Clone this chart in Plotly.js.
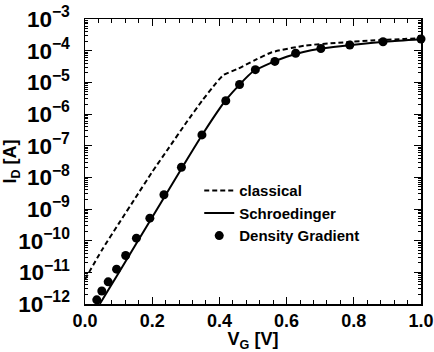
<!DOCTYPE html>
<html>
<head>
<meta charset="utf-8">
<script src="https://cdn.plot.ly/plotly-3.0.1.min.js"></script>
<style>html,body{margin:0;padding:0;background:#fff;}#chart{width:434px;height:352px;}</style>
</head>
<body>
<div id="chart"></div>
<script>
// Classical (dashed)
const classicalVg = [0.0, 0.05, 0.1, 0.15, 0.2, 0.25, 0.3, 0.35, 0.39, 0.412, 0.457, 0.507, 0.556, 0.655, 0.754, 0.852, 0.95, 1.0];
const classicalId = [6.0e-12, 5.0e-11, 3.4e-10, 2.24e-9, 1.48e-8, 8.7e-8, 5.1e-7, 2.75e-6, 9.5e-6, 1.7e-5, 2.75e-5, 5.1e-5, 8.9e-5, 1.45e-4, 1.78e-4, 2.09e-4, 2.34e-4, 2.45e-4];

// Schroedinger (solid)
const schVg = [0.044, 0.1, 0.2, 0.3, 0.35, 0.40, 0.42, 0.46, 0.50, 0.55, 0.60, 0.65, 0.70, 0.80, 0.90, 1.00];
const schId = [1.0e-12, 9.5e-12, 5.5e-10, 3.16e-8, 2.29e-7, 1.45e-6, 2.82e-6, 8.5e-6, 2.19e-5, 3.98e-5, 6.46e-5, 9.12e-5, 1.15e-4, 1.55e-4, 1.95e-4, 2.29e-4];

// Density Gradient (dots)
const dgVg = [0.035, 0.05, 0.069, 0.094, 0.121, 0.153, 0.193, 0.235, 0.287, 0.348, 0.419, 0.46, 0.507, 0.565, 0.627, 0.702, 0.788, 0.887, 1.0];
const dgId = [1.35e-12, 2.57e-12, 5.0e-12, 1.26e-11, 3.39e-11, 1.20e-10, 5.13e-10, 2.82e-9, 2.09e-8, 2.19e-7, 2.63e-6, 8.51e-6, 2.51e-5, 4.57e-5, 8.32e-5, 1.17e-4, 1.51e-4, 1.91e-4, 2.34e-4];

// x tick labels
const xTickVals = [0.0, 0.2, 0.4, 0.6, 0.8, 1.0];
const xTickText = ['0.0', '0.2', '0.4', '0.6', '0.8', '1.0'];

const seriesNames = ['classical', 'Schroedinger', 'Density Gradient'];

const FONT = 'Liberation Sans, Arial, Helvetica, sans-serif';

const traces = [
  {x: classicalVg, y: classicalId, name: seriesNames[0], mode: 'lines', type: 'scatter',
   line: {color: '#000', width: 2, dash: '5px,3px', shape: 'spline', smoothing: 0.5}},
  {x: schVg, y: schId, name: seriesNames[1], mode: 'lines', type: 'scatter',
   line: {color: '#000', width: 2, shape: 'spline', smoothing: 0.5}},
  {x: dgVg, y: dgId, name: seriesNames[2], mode: 'markers', type: 'scatter', cliponaxis: false,
   marker: {color: '#000', size: 9}}
];

const layout = {
  width: 434, height: 352,
  margin: {l: 85, r: 13, t: 19, b: 48},
  paper_bgcolor: '#fff', plot_bgcolor: '#fff',
  font: {family: FONT, color: '#000', size: 16, weight: 'bold'},
  showlegend: true,
  legend: {x: 0.34, y: 0.455, xanchor: 'left', yanchor: 'top', bgcolor: 'rgba(0,0,0,0)',
           font: {family: FONT, size: 15, color: '#000', weight: 'bold'}, tracegroupgap: 0},
  xaxis: {
    range: [0, 1.0], tickmode: 'array', tickvals: xTickVals, ticktext: xTickText,
    ticklabeloverflow: 'allow', automargin: false,
    ticks: 'inside', ticklen: 7, tickwidth: 1, tickcolor: '#000',
    minor: {ticks: 'inside', ticklen: 4, tick0: 0, dtick: 0.04, tickcolor: '#000'},
    showline: true, linecolor: '#000', linewidth: 1.5, mirror: 'allticks',
    showgrid: false, zeroline: false,
    tickfont: {family: FONT, size: 18, weight: 'bold'},
    title: {text: 'V<sub>G</sub> [V]', font: {family: FONT, size: 18, weight: 'bold'}, standoff: 8}
  },
  yaxis: {
    type: 'log', range: [-12, -3], dtick: 1, exponentformat: 'power',
    ticks: 'inside', ticklen: 7, tickwidth: 1, tickcolor: '#000',
    minor: {ticks: 'inside', ticklen: 3, dtick: 'D1', tickcolor: '#000'},
    showline: true, linecolor: '#000', linewidth: 1.5, mirror: 'allticks',
    showgrid: false, zeroline: false,
    tickfont: {family: FONT, size: 18, weight: 'bold'},
    ticklabelstandoff: 10,
    title: {text: 'I<sub>D</sub> [A]', font: {family: FONT, size: 18, weight: 'bold'}, standoff: 2}
  }
};

Plotly.newPlot('chart', traces, layout, {displayModeBar: false, staticPlot: true});
</script>
</body>
</html>
